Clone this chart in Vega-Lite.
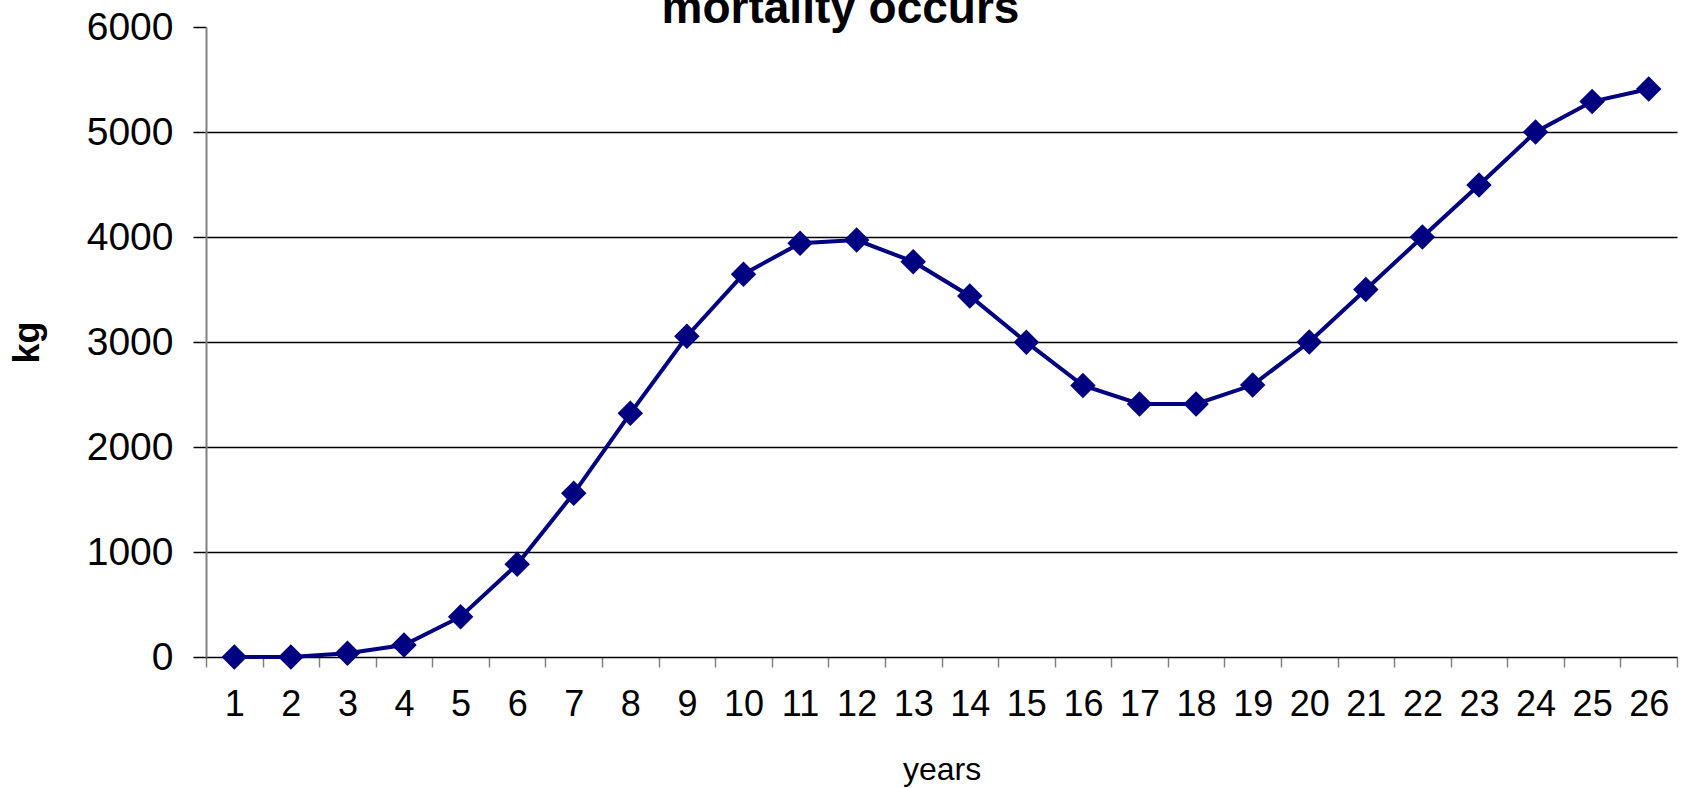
{
  "$schema": "https://vega.github.io/schema/vega-lite/v6.json",
  "width": 1471,
  "height": 630,
  "autosize": {"type": "none"},
  "padding": {"left": 206, "top": 27, "right": 12, "bottom": 131},
  "background": "white",
  "config": {
    "font": "Liberation Sans",
    "view": {"stroke": null}
  },
  "data": {
    "values": [
      {"year": 1, "kg": 0},
      {"year": 2, "kg": 0},
      {"year": 3, "kg": 35},
      {"year": 4, "kg": 114},
      {"year": 5, "kg": 384},
      {"year": 6, "kg": 883},
      {"year": 7, "kg": 1559},
      {"year": 8, "kg": 2321},
      {"year": 9, "kg": 3055},
      {"year": 10, "kg": 3646},
      {"year": 11, "kg": 3940},
      {"year": 12, "kg": 3971},
      {"year": 13, "kg": 3765},
      {"year": 14, "kg": 3438},
      {"year": 15, "kg": 2998},
      {"year": 16, "kg": 2586},
      {"year": 17, "kg": 2410},
      {"year": 18, "kg": 2410},
      {"year": 19, "kg": 2590},
      {"year": 20, "kg": 3000},
      {"year": 21, "kg": 3500},
      {"year": 22, "kg": 4000},
      {"year": 23, "kg": 4495},
      {"year": 24, "kg": 5000},
      {"year": 25, "kg": 5290},
      {"year": 26, "kg": 5410}
    ]
  },
  "encoding": {
    "y": {
      "field": "kg",
      "type": "quantitative",
      "scale": {"domain": [0, 6000], "nice": false},
      "axis": {
        "title": "kg",
        "titleFontSize": 36,
        "titleFontWeight": "bold",
        "titleColor": "black",
        "titlePadding": 40,
        "values": [0, 1000, 2000, 3000, 4000, 5000, 6000],
        "format": "d",
        "labelFontSize": 39,
        "labelColor": "black",
        "labelPadding": 20,
        "tickSize": 13,
        "tickColor": "black",
        "tickWidth": 1.5,
        "domainColor": "#808080",
        "domainWidth": 2,
        "grid": true,
        "gridColor": "black",
        "gridWidth": 1.5,
        "gridOpacity": {"condition": {"test": "datum.value >= 6000 || datum.value <= 0", "value": 0}, "value": 1}
      }
    }
  },
  "layer": [
    {
      "mark": {"type": "line", "color": "#000080", "strokeWidth": 4},
      "encoding": {
        "x": {
          "field": "year",
          "type": "ordinal",
          "sort": null,
          "scale": {"type": "band", "paddingInner": 0, "paddingOuter": 0},
          "axis": {
            "orient": "top",
            "title": "mortality occurs",
            "titleFontSize": 46,
            "titleFontWeight": "bold",
            "titleColor": "black",
            "titleBaseline": "alphabetic",
            "titleAlign": "center",
            "titleAnchor": "start",
            "titleX": 634,
            "titleY": -5,
            "labels": false,
            "ticks": false,
            "domain": false,
            "grid": false
          }
        }
      }
    },
    {
      "mark": {"type": "point", "shape": "diamond", "filled": true, "color": "#000080", "opacity": 1, "size": 650},
      "encoding": {
        "x": {
          "field": "year",
          "type": "ordinal",
          "sort": null,
          "scale": {"type": "band", "paddingInner": 0, "paddingOuter": 0},
          "axis": {
            "orient": "bottom",
            "title": "years",
            "titleFontSize": 32,
            "titleFontWeight": "normal",
            "titleColor": "black",
            "titlePadding": 32,
            "labelAngle": 0,
            "labelFontSize": 36,
            "labelColor": "black",
            "labelPadding": 20,
            "tickBand": "extent",
            "ticks": true,
            "tickSize": 10,
            "tickColor": "#808080",
            "tickWidth": 1.5,
            "domainColor": "black",
            "domainWidth": 1.5,
            "grid": false
          }
        }
      }
    }
  ],
  "resolve": {"axis": {"x": "independent"}}
}
